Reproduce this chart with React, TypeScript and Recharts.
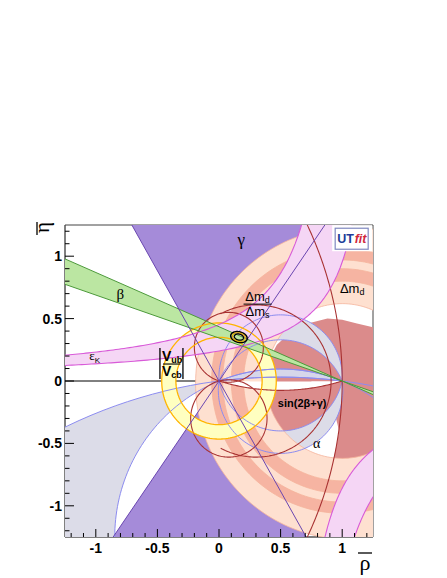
import React from "react";
import { ComposedChart, Scatter, XAxis, YAxis, ReferenceLine } from "recharts";

// plot window and axis ticks
const LIM = 1.25;
const TICKS = [
  -1.2, -1.1, -1, -0.9, -0.8, -0.7, -0.6, -0.5, -0.4, -0.3, -0.2, -0.1, 0,
  0.1, 0.2, 0.3, 0.4, 0.5, 0.6, 0.7, 0.8, 0.9, 1, 1.1, 1.2,
];
const MAJOR_TICKS = [-1, -0.5, 0, 0.5, 1];

// constraint values
const GAMMA_DEG = [55.5, 119.5]; // gamma band: rays from (0,0)
const BETA_DEG = [156.5, 161]; // beta band: rays from (1,0)
const VUB_R = [0.35, 0.465]; // |Vub/Vcb| ring around (0,0)
const DMD_OUTER = [1.06, -0.02, 1.25]; // outer edge of the dm band: cx, cy, r
const DMD_HOLE = 0.62; // inner edge, around (1,0)
const DMD_DARK = [
  [0.8, 0.9],
  [0.97, 1.06],
];
const ALPHA_WIDE_K = [-3.99, -1.25]; // circles through (0,0),(1,0), centre (0.5,k)
const ALPHA_LENS = [
  [0.53, 0.33],
  [-0.4, -0.58],
];
const ALPHA_THIN = [0.096, 0.031];
const WHITE_LENS = [-0.004, -0.075];
const EPS_UP = [
  [1.05, 0.475],
  [1.338, 0.322],
]; // eta = c/(a - rho): [a, c]
const EPS_DOWN = [
  [0.554, 0.383],
  [0.664, 0.545],
];
const SIN_UP = [
  [0.38, 0], [0.4, 0.16], [0.47, 0.29], [0.58, 0.39], [0.72, 0.46], [0.88, 0.5],
  [1.0, 0.49], [1.12, 0.46], [1.25, 0.43], [1.25, 0],
];
const SIN_DOWN = [
  [0.3, 0], [1.25, 0], [1.25, -0.64], [0.93, -0.62], [0.957, -0.5], [0.975, -0.4],
  [0.95, -0.3], [0.9, -0.38], [0.8, -0.48], [0.65, -0.56], [0.5, -0.58], [0.3, -0.5],
];
// sin(2b+g) curves: cx, cy, r, from angle, to angle (deg)
const SIN_ARCS = [
  [-1.9, 0, 2.9, -40, 40],
  [0.3, 0, 0.61, -118, 118],
  [0.08, 0.27, 0.28, 0, 360],
  [0.08, -0.3, 0.31, 0, 360],
];
const FIT_C = [0.162, 0.352];
const FIT_ROT = -14;
const FIT_AXES = [
  [0.068, 0.042],
  [0.053, 0.033],
  [0.038, 0.024],
];

const LABELS = [
  { x: 0.18, y: 1.13, kind: "gamma" },
  { x: -0.8, y: 0.7, kind: "beta" },
  { x: -1.02, y: 0.19, kind: "epsK" },
  { x: -0.386, y: 0.136, kind: "vub" },
  { x: 0.313, y: 0.616, kind: "dmratio" },
  { x: 1.081, y: 0.744, kind: "dmd" },
  { x: 0.675, y: -0.176, kind: "sin" },
  { x: 0.793, y: -0.504, kind: "alpha" },
  { x: 1.081, y: 1.144, kind: "logo" },
];

const SANS = "'Liberation Sans', Arial, sans-serif";
const SERIF = "'Liberation Serif', 'Times New Roman', serif";

type Pt = { x: number; y: number };
type Shape = { pts: Pt[]; parts: number[] };

const rad = (d: number) => (d * Math.PI) / 180;

function arcPts(cx: number, cy: number, r: number, a0: number, a1: number, n = 96): Pt[] {
  const out: Pt[] = [];
  for (let i = 0; i <= n; i++) {
    const a = rad(a0 + ((a1 - a0) * i) / n);
    out.push({ x: cx + r * Math.cos(a), y: cy + r * Math.sin(a) });
  }
  return out;
}
const circlePts = (cx: number, cy: number, r: number, n = 160) =>
  arcPts(cx, cy, r, 0, 360, n).slice(0, n);

// arc of the circle through (0,0) and (1,0) that passes (0.5, h)
function chordArc(h: number, n = 90): Pt[] {
  const k = (h * h - 0.25) / (2 * h);
  const r = Math.abs(h - k);
  const s = h > k ? 1 : -1;
  const phi = Math.acos(Math.max(-1, Math.min(1, (-k * (h - k)) / (r * r))));
  const out: Pt[] = [];
  for (let i = 0; i <= n; i++) {
    const t = -phi + (2 * phi * i) / n;
    out.push({ x: 0.5 + r * Math.sin(t), y: k + s * r * Math.cos(t) });
  }
  return out;
}
const lens = (h1: number, h2: number) => chordArc(h1).concat(chordArc(h2).reverse());
const wideCircle = (k: number) => circlePts(0.5, k, Math.sqrt(0.25 + k * k), 240);

function hyper(a: number, c: number, r0: number, r1: number, n = 90): Pt[] {
  const out: Pt[] = [];
  for (let i = 0; i <= n; i++) {
    const rho = r0 + ((r1 - r0) * i) / n;
    out.push({ x: rho, y: c / (a - rho) });
  }
  return out;
}

function ellipse(a: number, b: number, n = 80): Pt[] {
  const ca = Math.cos(rad(FIT_ROT));
  const sa = Math.sin(rad(FIT_ROT));
  const out: Pt[] = [];
  for (let i = 0; i < n; i++) {
    const t = (2 * Math.PI * i) / n;
    const u = a * Math.cos(t);
    const v = b * Math.sin(t);
    out.push({ x: FIT_C[0] + u * ca - v * sa, y: FIT_C[1] + u * sa + v * ca });
  }
  return out;
}

const shape = (...rings: Pt[][]): Shape => ({ pts: rings.flat(), parts: rings.map((r) => r.length) });
const fromList = (l: number[][]) => l.map(([x, y]) => ({ x, y }));
const ray = (px: number, py: number, deg: number, len: number): Pt[] => [
  { x: px, y: py },
  { x: px + len * Math.cos(rad(deg)), y: py + len * Math.sin(rad(deg)) },
];

// ---- shapes built from the values above
const gammaFill = shape(
  [{ x: 0, y: 0 }, ...arcPts(0, 0, 3, GAMMA_DEG[0], GAMMA_DEG[1], 40)],
  [{ x: 0, y: 0 }, ...arcPts(0, 0, 3, GAMMA_DEG[0] + 180, GAMMA_DEG[1] + 180, 40)]
);
const gammaRays = shape(
  ...[GAMMA_DEG[0], GAMMA_DEG[1], GAMMA_DEG[0] + 180, GAMMA_DEG[1] + 180].map((d) => ray(0, 0, d, 3))
);
const betaFill = shape(
  [{ x: 1, y: 0 }, ...arcPts(1, 0, 4, BETA_DEG[0], BETA_DEG[1], 20)],
  [{ x: 1, y: 0 }, ...arcPts(1, 0, 4, BETA_DEG[0] + 180, BETA_DEG[1] + 180, 20)]
);
const betaRays = shape(
  ...[BETA_DEG[0], BETA_DEG[1], BETA_DEG[0] + 180, BETA_DEG[1] + 180].map((d) => ray(1, 0, d, 4))
);
const vubRing = shape(circlePts(0, 0, VUB_R[1]), circlePts(0, 0, VUB_R[0]));
const dmdFill = shape(circlePts(DMD_OUTER[0], DMD_OUTER[1], DMD_OUTER[2], 200), circlePts(1, 0, DMD_HOLE));
const dmdDark = DMD_DARK.map(([r0, r1]) => shape(circlePts(1, 0, r1, 200), circlePts(1, 0, r0, 200)));
const alphaWide = shape(wideCircle(ALPHA_WIDE_K[0]), wideCircle(ALPHA_WIDE_K[1]));
const alphaLens = shape(...ALPHA_LENS.map(([a, b]) => lens(a, b)));
const alphaThin = shape(lens(ALPHA_THIN[0], ALPHA_THIN[1]));
const alphaLines = shape(...ALPHA_LENS.flat().map((h) => chordArc(h)), ...ALPHA_THIN.map((h) => chordArc(h)));
const alphaCircles = shape(...ALPHA_WIDE_K.map(wideCircle));
const whiteLens = shape(lens(WHITE_LENS[0], WHITE_LENS[1]));
const sinFill = shape(fromList(SIN_UP), fromList(SIN_DOWN));
const sinLines = shape(
  ...SIN_ARCS.map(([cx, cy, r, a0, a1]) => arcPts(cx, cy, r, a0, a1, 180)),
  chordArc(WHITE_LENS[1])
);

const top = 1.3;
const uEnd = EPS_UP[0][0] - EPS_UP[0][1] / top;
const lEnd = EPS_UP[1][0] - EPS_UP[1][1] / top;
const epsUpper = hyper(EPS_UP[0][0], EPS_UP[0][1], -1.3, uEnd);
const epsLower = hyper(EPS_UP[1][0], EPS_UP[1][1], -1.3, lEnd);
const d1Start = EPS_DOWN[0][0] + EPS_DOWN[0][1] / top;
const d2Start = EPS_DOWN[1][0] + EPS_DOWN[1][1] / top;
const epsD1 = hyper(EPS_DOWN[0][0], EPS_DOWN[0][1], d1Start, 1.3);
const epsD2 = hyper(EPS_DOWN[1][0], EPS_DOWN[1][1], d2Start, 1.3);
const epsFill = shape(epsUpper.concat(epsLower.slice().reverse()), epsD1.concat(epsD2.slice().reverse()));
const epsLines = shape(epsUpper, epsLower, epsD1, epsD2);

const ringLines = shape(
  circlePts(DMD_OUTER[0], DMD_OUTER[1], DMD_OUTER[2], 200),
  circlePts(1, 0, DMD_HOLE),
  ...DMD_DARK.flat().map((r) => circlePts(1, 0, r, 200))
);
const fitRings = FIT_AXES.map(([a, b]) => shape(ellipse(a, b)));

// ---- drawing helpers
function toPath(points: { x: number; y: number }[], parts: number[], closed: boolean) {
  let d = "";
  let i = 0;
  for (const n of parts) {
    const seg = points.slice(i, i + n);
    i += n;
    d += seg.map((p, j) => `${j ? "L" : "M"}${p.x.toFixed(2)},${p.y.toFixed(2)}`).join("") + (closed ? "Z" : "");
  }
  return d;
}

const blank = () => <g />;

function layer(id: string, s: Shape, fill: string, stroke = "none", sw = 1, closed = true) {
  return (
    <Scatter
      key={id}
      name={id}
      data={s.pts}
      isAnimationActive={false}
      shape={blank}
      legendType="none"
      line={(lp: any) => (
        <path
          d={toPath(lp.points, s.parts, closed)}
          fill={closed ? fill : "none"}
          fillRule="evenodd"
          stroke={stroke}
          strokeWidth={sw}
          strokeLinejoin="round"
        />
      )}
    />
  );
}

function PlotLabel(p: any) {
  const { cx, cy, payload } = p;
  switch (payload.kind) {
    case "gamma":
      return <text x={cx} y={cy + 5} textAnchor="middle" fontSize={17} fontFamily={SERIF}>γ</text>;
    case "beta":
      return <text x={cx} y={cy + 5} textAnchor="middle" fontSize={15} fontFamily={SERIF}>β</text>;
    case "alpha":
      return <text x={cx} y={cy + 4} textAnchor="middle" fontSize={14} fontFamily={SERIF}>α</text>;
    case "epsK":
      return (
        <text x={cx - 4} y={cy + 3} fontSize={13} fontFamily={SERIF}>
          ε<tspan fontFamily={SANS} fontSize={8} dy={3}>K</tspan>
        </text>
      );
    case "vub":
      return (
        <g fontFamily={SANS} fontWeight="bold">
          <line x1={cx - 11.5} x2={cx - 11.5} y1={cy - 16} y2={cy + 15} stroke="#000" strokeWidth={1.3} />
          <line x1={cx + 11.5} x2={cx + 11.5} y1={cy - 16} y2={cy + 15} stroke="#000" strokeWidth={1.3} />
          <line x1={cx - 8.5} x2={cx + 9} y1={cy} y2={cy} stroke="#000" strokeWidth={1.1} />
          <text x={cx - 9.5} y={cy - 3} fontSize={14}>
            V<tspan fontSize={9} dy={2}>ub</tspan>
          </text>
          <text x={cx - 9.5} y={cy + 12} fontSize={14}>
            V<tspan fontSize={9} dy={2}>cb</tspan>
          </text>
        </g>
      );
    case "dmratio":
      return (
        <g fontFamily={SANS}>
          <text x={cx} y={cy - 3} textAnchor="middle" fontSize={13}>
            Δm<tspan fontSize={9} dy={2}>d</tspan>
          </text>
          <line x1={cx - 14} x2={cx + 14} y1={cy} y2={cy} stroke="#000" strokeWidth={1} />
          <text x={cx} y={cy + 12} textAnchor="middle" fontSize={13}>
            Δm<tspan fontSize={9} dy={2}>s</tspan>
          </text>
        </g>
      );
    case "dmd":
      return (
        <text x={cx} y={cy + 5} textAnchor="middle" fontSize={13} fontFamily={SANS}>
          Δm<tspan fontSize={9} dy={2}>d</tspan>
        </text>
      );
    case "sin":
      return (
        <text x={cx} y={cy + 4} textAnchor="middle" fontSize={11} fontWeight="bold" fontFamily={SANS}>
          sin(2β+γ)
        </text>
      );
    case "logo":
      return (
        <g fontFamily={SANS}>
          <rect x={cx - 20} y={cy - 13} width={40} height={26} fill="#fff" />
          <rect x={cx - 17} y={cy - 10} width={33} height={21} fill="none" stroke="#8088c0" strokeWidth={1.2} />
          <text x={cx - 15} y={cy + 5} fontSize={12.5} fontWeight="bold" fill="#203c98">UT</text>
          <text x={cx + 2.5} y={cy + 5} fontSize={12.5} fontWeight="bold" fontStyle="italic" fill="#d0283c">fit</text>
        </g>
      );
    default:
      return <g />;
  }
}

const isMajor = (v: number) => MAJOR_TICKS.some((m) => Math.abs(m - v) < 1e-6);
const fmt = (v: number) => (Math.abs(v) < 1e-9 ? "0" : String(+v.toFixed(1)));

function XTick(p: any) {
  const { x, y, payload } = p;
  const big = isMajor(payload.value);
  return (
    <g>
      <line x1={x} x2={x} y1={y} y2={y - (big ? 8 : 4)} stroke="#000" />
      {big && (
        <text x={x} y={y + 16} textAnchor="middle" fontSize={14} fontWeight="bold" fontFamily={SANS}>
          {fmt(payload.value)}
        </text>
      )}
    </g>
  );
}

function YTick(p: any) {
  const { x, y, payload } = p;
  const big = isMajor(payload.value);
  return (
    <g>
      <line x1={x} x2={x + (big ? 9 : 4.5)} y1={y} y2={y} stroke="#000" />
      {big && (
        <text x={x - 3} y={y + 5} textAnchor="end" fontSize={14} fontWeight="bold" fontFamily={SANS}>
          {fmt(payload.value)}
        </text>
      )}
    </g>
  );
}

const rhoTitle = (p: any) => {
  const vb = p.viewBox;
  const x = vb.x + vb.width - 8;
  const y = vb.y + 33;
  return (
    <g>
      <text x={x} y={y} textAnchor="middle" fontSize={22} fontFamily={SERIF}>ρ</text>
      <line x1={x - 7} x2={x + 7} y1={y - 17} y2={y - 17} stroke="#000" strokeWidth={1.3} />
    </g>
  );
};

const etaTitle = (p: any) => {
  const vb = p.viewBox;
  return (
    <g transform={`translate(${vb.x + 24},${vb.y - 3}) rotate(-90)`}>
      <text x={0} y={0} textAnchor="end" fontSize={21} fontFamily={SERIF}>η</text>
      <line x1={-13} x2={0} y1={-12} y2={-12} stroke="#000" strokeWidth={1.3} />
    </g>
  );
};

export default function App() {
  return (
    <ComposedChart width={431} height={570} margin={{ top: 217, right: 66, bottom: 11, left: 17 }}>
      <XAxis
        type="number"
        dataKey="x"
        domain={[-LIM, LIM]}
        allowDataOverflow
        ticks={TICKS}
        interval={0}
        tick={(p: any) => <XTick {...p} />}
        tickLine={false}
        axisLine={false}
        tickSize={0}
        tickMargin={0}
        height={30}
        label={rhoTitle}
      />
      <YAxis
        type="number"
        dataKey="y"
        domain={[-LIM, LIM]}
        allowDataOverflow
        ticks={TICKS}
        interval={0}
        tick={(p: any) => <YTick {...p} />}
        tickLine={false}
        axisLine={false}
        tickSize={0}
        tickMargin={0}
        width={40}
        label={etaTitle}
      />

      {layer("gamma", gammaFill, "#a58bd9")}
      {layer("alphaWide", alphaWide, "#dcdce8")}
      {layer("sin", sinFill, "#db8b8b")}
      {layer("alphaLens", alphaLens, "#dcdce8")}
      {layer("dmd", dmdFill, "#fee0d0")}
      {dmdDark.map((s, i) => layer(`dmdDark${i}`, s, "#f6b4a2"))}
      {layer("ringLines", ringLines, "none", "#f5b49c", 0.8)}
      {layer("whiteLens", whiteLens, "#ffffff")}
      {layer("alphaThin", alphaThin, "#d6d6ea")}
      {layer("vub", vubRing, "#ffffc0")}
      {layer("eps", epsFill, "#f5d6f5")}
      {layer("beta", betaFill, "#bbe6a2")}
      {layer("alphaLines", alphaLines, "none", "#8c8cf0", 1, false)}
      {layer("alphaCircles", alphaCircles, "none", "#8c8cf0", 1)}
      {layer("sinLines", sinLines, "none", "#a83232", 1.1, false)}
      {layer("vubLines", vubRing, "none", "#ffb400", 1.3)}
      {layer("epsLines", epsLines, "none", "#d85ad8", 1.1, false)}
      {layer("betaRays", betaRays, "none", "#4c9a3a", 1, false)}
      {layer("gammaRays", gammaRays, "none", "#6a46b0", 1, false)}
      {layer("fit0", fitRings[0], "none", "#000", 1.5)}
      {layer("fit1", fitRings[1], "none", "#e0a800", 1.2)}
      {layer("fit2", fitRings[2], "none", "#000", 1.3)}

      <Scatter
        name="labels"
        data={LABELS}
        isAnimationActive={false}
        legendType="none"
        shape={(p: any) => <PlotLabel {...p} />}
      />

      <ReferenceLine x={0} stroke="#000" strokeWidth={1} />
      <ReferenceLine y={0} stroke="#000" strokeWidth={1} />
      <ReferenceLine x={-LIM} stroke="#000" strokeWidth={1} />
      <ReferenceLine y={-LIM} stroke="#000" strokeWidth={1} />
      <ReferenceLine x={LIM} stroke="#444" strokeWidth={1} />
      <ReferenceLine y={LIM} stroke="#444" strokeWidth={1} />
    </ComposedChart>
  );
}
